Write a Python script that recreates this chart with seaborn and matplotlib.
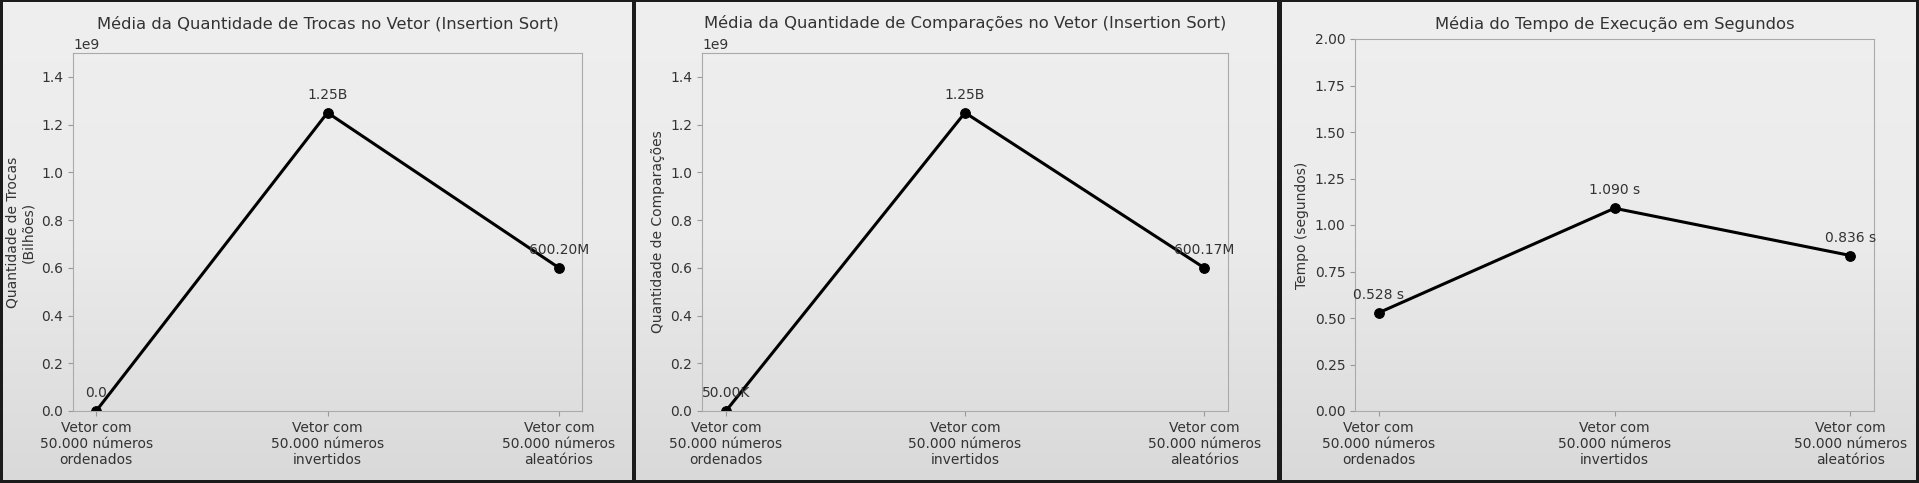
import matplotlib
matplotlib.use('Agg')
import matplotlib.pyplot as plt
import seaborn as sns
import numpy as np

categorias = ['Vetor com\n50.000 números\nordenados',
              'Vetor com\n50.000 números\ninvertidos',
              'Vetor com\n50.000 números\naleatórios']
trocas = [0.0, 1.25e9, 600.20e6]
comparacoes = [50.00e3, 1.25e9, 600.17e6]
tempos = [0.528, 1.090, 0.836]

titulos = ['Média da Quantidade de Trocas no Vetor (Insertion Sort)',
           'Média da Quantidade de Comparações no Vetor (Insertion Sort)',
           'Média do Tempo de Execução em Segundos']
ylabels = ['Quantidade de Trocas\n(Bilhões)',
           'Quantidade de Comparações',
           'Tempo (segundos)']


def formata_qtd(v):
    if v >= 1e9:
        return f'{v / 1e9:.2f}B'
    if v >= 1e6:
        return f'{v / 1e6:.2f}M'
    if v >= 1e3:
        return f'{v / 1e3:.2f}K'
    return str(v)


def formata_tempo(v):
    return f'{v:.3f} s'


sns.set_style('ticks')
plt.rcParams['font.family'] = ['DejaVu Sans']
txt = '#333333'
plt.rcParams.update({'text.color': txt, 'axes.labelcolor': txt,
                     'xtick.color': '#999999', 'ytick.color': '#999999',
                     'xtick.labelcolor': txt, 'ytick.labelcolor': txt})

W, H = 1919, 483
fig = plt.figure(figsize=(W / 100, H / 100), dpi=100, facecolor='#1b1b1b')

# fundos dos paineis (px: x0, x1)
paineis = [(3, 631), (636, 1276), (1282, 1916)]
grad = np.linspace(0, 1, 256).reshape(-1, 1)
for x0, x1 in paineis:
    bg = fig.add_axes([x0 / W, 3 / H, (x1 - x0) / W, (480 - 2) / H], zorder=-5)
    bg.imshow(grad, aspect='auto', cmap=sns.blend_palette(['#d9d9d9', '#ebebeb', '#efefef'], as_cmap=True),
              origin='lower', extent=[0, 1, 0, 1])
    bg.axis('off')

# eixos (px: left, right, top, bottom)
eixos = [(73, 582, 53, 411), (702, 1228, 53, 411), (1355, 1874, 39, 411)]
dados = [trocas, comparacoes, tempos]
fmts = [formata_qtd, formata_qtd, formata_tempo]
ylims = [(0, 1.5e9), (0, 1.5e9), (0, 2.0)]

for (l, r, t, b), ys, fmt, tit, yl, lim in zip(eixos, dados, fmts, titulos, ylabels, ylims):
    ax = fig.add_axes([l / W, 1 - b / H, (r - l) / W, (b - t) / H])
    ax.set_facecolor('none')
    sns.lineplot(x=categorias, y=ys, marker='o', color='black', linewidth=2.2,
                 markersize=7, markeredgecolor='black', ax=ax)
    for c, v in zip(categorias, ys):
        ax.annotate(fmt(v), (c, v), textcoords='offset points', xytext=(0, 10),
                    ha='center', fontsize=10, color=txt)
    ax.set_ylim(*lim)
    ax.set_title(tit, fontsize=11.8, color=txt, pad=7)
    ax.set_ylabel(yl, fontsize=10)
    ax.set_xlabel('')
    ax.tick_params(labelsize=10)
    for s in ax.spines.values():
        s.set_color('#aaaaaa')
    ax.yaxis.get_offset_text().set_color(txt)

fig.savefig('out.png', dpi=100, facecolor=fig.get_facecolor())
